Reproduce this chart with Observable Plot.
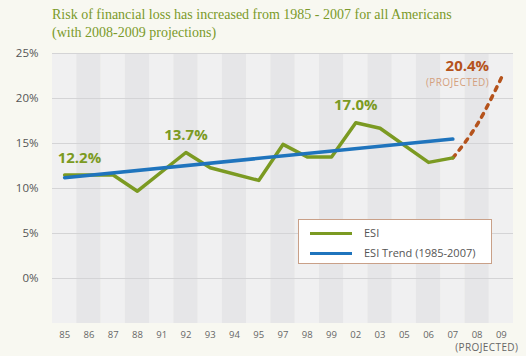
<!DOCTYPE html>
<html><head><meta charset="utf-8">
<script src="https://cdn.jsdelivr.net/npm/d3@7"></script>
<script src="https://cdn.jsdelivr.net/npm/@observablehq/plot@0.6"></script>
<style>
html,body{margin:0;padding:0;background:#f8f8f1;}
#wrap{position:relative;width:526px;height:356px;overflow:hidden;}
#title{position:absolute;left:52px;top:6px;font-family:"Liberation Serif",serif;font-size:14px;line-height:18px;color:#7b9a2a;margin:0;font-weight:normal;}
#legend{position:absolute;left:298px;top:219px;width:192px;height:43px;background:#fff;border:1.5px solid #c9a088;font-family:"Open Sans",sans-serif;font-size:11px;color:#555;}
.lg{position:absolute;left:0;height:12px;line-height:12px;}
.lg span.bar{position:absolute;left:11px;top:4.5px;width:42px;height:3.5px;}
.lg span.t{position:absolute;left:65px;top:0;white-space:nowrap;}
svg{position:absolute;left:0;top:0;}
</style></head>
<body><div id="wrap">
<div id="title">Risk of financial loss has increased from 1985 - 2007 for all Americans<br>(with 2008-2009 projections)</div>
</div>
<script>
const categories = ["85","86","87","88","91","92","93","94","95","97","98","99","02","03","05","06","07","08","09"];
const esiYears  = ["85","87","88","92","93","95","97","98","99","02","03","06","07"];
const esiValues = [11.5,11.5,9.7,14.0,12.3,10.9,14.9,13.5,13.5,17.3,16.7,12.9,13.4];
const trendYears = ["85","07"];
const trendValues = [11.2,15.5];
const projYears = ["07","08","09"];
const projValues = [13.4,17.1,22.3];
const yTicks = [0,5,10,15,20,25];
const annLabels = ["12.2%","13.7%","17.0%","20.4%"];
const annYears  = ["85","92","02","08"];
const annValues = [12.2,13.7,17.0,20.4];
const seriesNames = ["ESI","ESI Trend (1985-2007)"];
const colors = {esi:"#7b9a22", trend:"#1f74bd", proj:"#b5531c"};

const idx = c => categories.indexOf(c);
const esi = esiYears.map((c,i)=>({x:idx(c), y:esiValues[i]}));
const trend = trendYears.map((c,i)=>({x:idx(c), y:trendValues[i]}));
const proj = projYears.map((c,i)=>({x:idx(c), y:projValues[i]}));
const ann = annYears.map((c,i)=>({x:idx(c), y:annValues[i], label:annLabels[i]}));
const cats = categories.map((c,i)=>({c, i}));

const font = "Open Sans, sans-serif";
const chart = Plot.plot({
  width:526, height:356,
  marginLeft:52, marginRight:13, marginTop:53, marginBottom:33,
  style:{background:"transparent", fontFamily:font},
  x:{type:"linear", domain:[-0.5,18.5], axis:null},
  y:{domain:[-5,25], axis:null},
  marks:[
    Plot.rectY(cats.filter(d=>d.i%2===0), {x1:d=>d.i-0.5, x2:d=>d.i+0.5, y1:-5, y2:25, fill:"#f0f0f1"}),
    Plot.rectY(cats.filter(d=>d.i%2===1), {x1:d=>d.i-0.5, x2:d=>d.i+0.5, y1:-5, y2:25, fill:"#e6e6e8"}),
    Plot.ruleY(yTicks, {stroke:"#d4d4d6", strokeWidth:1}),
    Plot.text(yTicks, {x:-0.5, y:d=>d, text:d=>d+"%", textAnchor:"end", dx:-14, fontSize:11.5, fill:"#555"}),
    Plot.text(cats, {x:d=>d.i, y:-5, dy:11, text:d=>d.c, fontSize:9.5, fill:"#666"}),
    Plot.text(["(PROJECTED)"], {x:idx("09"), y:-5, dy:24, dx:17, text:d=>d, textAnchor:"end", fontSize:10, fill:"#666"}),
    Plot.line(proj, {x:"x", y:"y", stroke:colors.proj, strokeWidth:3.5, strokeDasharray:"4,6", curve:"natural"}),
    Plot.line(esi, {x:"x", y:"y", stroke:colors.esi, strokeWidth:3.5}),
    Plot.line(trend, {x:"x", y:"y", stroke:colors.trend, strokeWidth:3.5}),
    Plot.text(ann.slice(0,1), {x:"x", y:"y", text:"label", textAnchor:"start", dx:-7, dy:-10.5, fontSize:15, fontWeight:"bold", fill:colors.esi}),
    Plot.text(ann.slice(1,3), {x:"x", y:"y", text:"label", textAnchor:"middle", dx:0, dy:-20, fontSize:15, fontWeight:"bold", fill:colors.esi}),
    Plot.text(ann.slice(3), {x:"x", y:"y", text:"label", textAnchor:"end", dx:12, dy:-28.5, fontSize:15, fontWeight:"bold", fill:colors.proj}),
    Plot.text(ann.slice(3), {x:"x", y:"y", text:()=> "(PROJECTED)", textAnchor:"end", dx:12, dy:-12.5, fontSize:10, fill:"#d4a07e"})
  ]
});
const wrap = document.getElementById("wrap");
wrap.insertBefore(chart, wrap.firstChild);
chart.querySelectorAll("text").forEach(t=>{ if (t.textContent === "(PROJECTED)") t.setAttribute("letter-spacing","0.4"); });

const lg = document.createElement("div");
lg.id = "legend";
[colors.esi, colors.trend].forEach((col,i)=>{
  const row = document.createElement("div");
  row.className = "lg";
  row.style.top = (7 + i*20) + "px";
  row.innerHTML = `<span class="bar" style="background:${col}"></span><span class="t"></span>`;
  row.querySelector(".t").textContent = seriesNames[i];
  lg.appendChild(row);
});
wrap.appendChild(lg);
</script>
</body></html>
